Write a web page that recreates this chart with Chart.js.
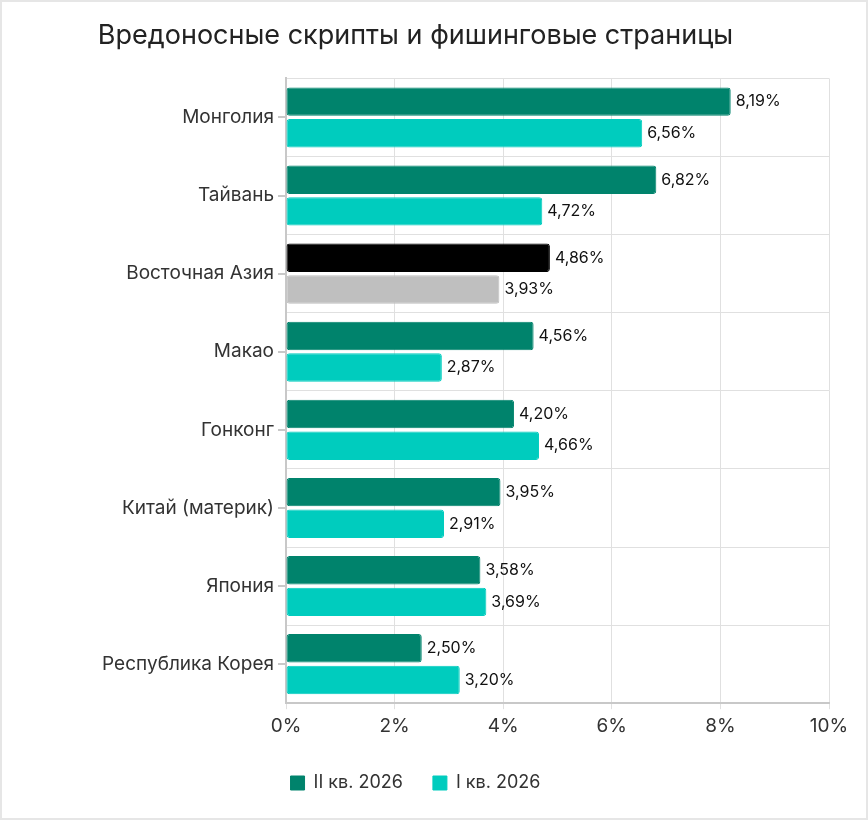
<!DOCTYPE html>
<html>
<head>
<meta charset="utf-8">
<script src="https://cdn.jsdelivr.net/npm/chart.js@4"></script>
<style>
  html, body { margin: 0; padding: 0; background: #fff; }
  #wrap { width: 864px; height: 816px; border: 2px solid #e6e6e6; position: relative; }
</style>
</head>
<body>
<div id="wrap"><canvas id="chart"></canvas></div>
<script>
const categories = ['Монголия', 'Тайвань', 'Восточная Азия', 'Макао', 'Гонконг', 'Китай (материк)', 'Япония', 'Республика Корея'];
const q2Values = [8.19, 6.82, 4.86, 4.56, 4.20, 3.95, 3.58, 2.50];
const q1Values = [6.56, 4.72, 3.93, 2.87, 4.66, 2.91, 3.69, 3.20];
const seriesNames = ['II кв. 2026', 'I кв. 2026'];
const xTicks = [0, 2, 4, 6, 8, 10];

const darkGreen = '#00836c';
const teal = '#00ccbe';
const q2Colors = categories.map(c => c === 'Восточная Азия' ? '#000000' : darkGreen);
const q1Colors = categories.map(c => c === 'Восточная Азия' ? '#bfbfbf' : teal);

const fontFamily = 'Inter, "Open Sans", sans-serif';

// value labels to the right of each bar
const valueLabels = {
    id: 'valueLabels',
    afterDatasetsDraw(chart) {
        const ctx = chart.ctx;
        ctx.save();
        ctx.font = '16px ' + fontFamily;
        ctx.fillStyle = '#111';
        ctx.textBaseline = 'middle';
        chart.data.datasets.forEach((ds, i) => {
            chart.getDatasetMeta(i).data.forEach((bar, j) => {
                const txt = ds.data[j].toFixed(2).replace('.', ',') + '%';
                ctx.fillText(txt, bar.x + 5, bar.y);
            });
        });
        ctx.restore();
    }
};

// small tick marks at the category centres
const centreTicks = {
    id: 'centreTicks',
    afterDraw(chart) {
        const y = chart.scales.y;
        const ctx = chart.ctx;
        ctx.save();
        ctx.strokeStyle = '#c8c8c8';
        ctx.lineWidth = 2;
        y.ticks.forEach((t, i) => {
            const py = Math.round(y.getPixelForTick(i));
            ctx.beginPath();
            ctx.moveTo(y.right, py);
            ctx.lineTo(y.right - 8, py);
            ctx.stroke();
        });
        ctx.restore();
    }
};

new Chart(document.getElementById('chart'), {
    type: 'bar',
    data: {
        labels: categories,
        datasets: [
            { label: seriesNames[0], data: q2Values, backgroundColor: q2Colors, borderColor: q2Colors, borderWidth: 1, borderRadius: 3, borderSkipped: false, barPercentage: 0.9, categoryPercentage: 0.81 },
            { label: seriesNames[1], data: q1Values, backgroundColor: q1Colors, borderColor: q1Colors, borderWidth: 1, borderRadius: 3, borderSkipped: false, barPercentage: 0.9, categoryPercentage: 0.81 }
        ]
    },
    options: {
        indexAxis: 'y',
        responsive: true,
        maintainAspectRatio: false,
        animation: false,
        layout: { padding: { top: 10, right: 37, left: 0, bottom: 16 } },
        scales: {
            x: {
                min: 0, max: 10,
                afterBuildTicks: axis => { axis.ticks = xTicks.map(v => ({ value: v })); },
                ticks: { callback: v => v + '%', color: '#333', font: { family: fontFamily, size: 19 }, padding: 6 },
                grid: { color: '#e0e0e0', tickLength: 6 },
                border: { color: '#c8c8c8', width: 2 }
            },
            y: {
                afterFit: axis => { axis.width = 284; },
                ticks: { color: '#333', font: { family: fontFamily, size: 19 }, padding: 12 },
                grid: { offset: true, color: '#e0e0e0', drawTicks: false },
                border: { color: '#c8c8c8', width: 2 }
            }
        },
        plugins: {
            title: {
                display: true,
                text: 'Вредоносные скрипты и фишинговые страницы',
                color: '#222',
                font: { family: fontFamily, size: 27, weight: 'normal' },
                padding: { top: 8, bottom: 26 }
            },
            legend: {
                position: 'bottom',
                labels: { color: '#333', font: { family: fontFamily, size: 18 }, boxWidth: 14, boxHeight: 14, padding: 30 }
            },
            tooltip: { enabled: false }
        }
    },
    plugins: [valueLabels, centreTicks]
});
</script>
</body>
</html>
